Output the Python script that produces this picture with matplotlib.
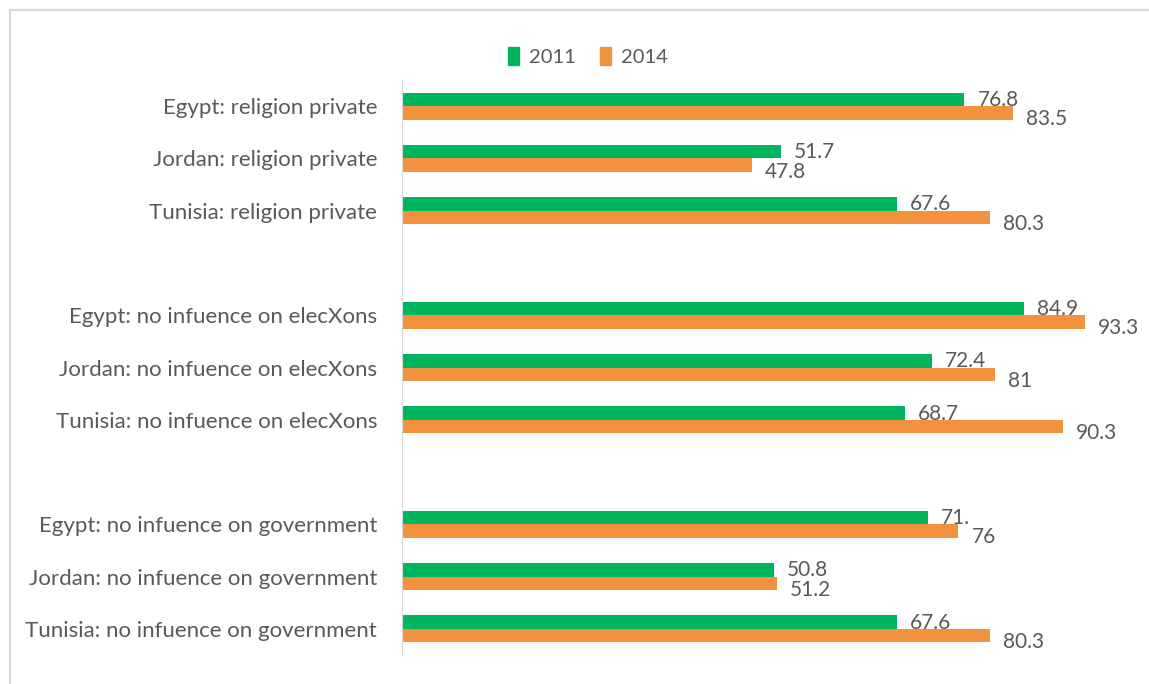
import numpy as np
import matplotlib.pyplot as plt
from matplotlib.patches import Patch, Rectangle

plt.rcParams['font.family'] = ['Lato', 'DejaVu Sans']

# categories top to bottom, '' = empty gap slot
categories = ['Egypt: religion private', 'Jordan: religion private', 'Tunisia: religion private', '',
              'Egypt: no infuence on elecXons', 'Jordan: no infuence on elecXons',
              'Tunisia: no infuence on elecXons', '',
              'Egypt: no infuence on government', 'Jordan: no infuence on government',
              'Tunisia: no infuence on government']
v2011 = [76.8, 51.7, 67.6, None, 84.9, 72.4, 68.7, None, 71.8, 50.8, 67.6]
v2014 = [83.5, 47.8, 80.3, None, 93.3, 81.0, 90.3, None, 76.0, 51.2, 80.3]
lab2011 = ['76.8', '51.7', '67.6', '', '84.9', '72.4', '68.7', '', '71.', '50.8', '67.6']
lab2014 = ['83.5', '47.8', '80.3', '', '93.3', '81', '90.3', '', '76', '51.2', '80.3']

green = '#00B55E'
orange = '#F2923F'
txt = '#595959'

fig = plt.figure(figsize=(11.49, 6.84), dpi=100)
ax = fig.add_axes([0.35, 0.0424, 0.637, 0.8406])

n = len(categories)
y = np.arange(n)
h = 0.26
for i in range(n):
    if v2011[i] is None:
        continue
    ax.barh(y[i] - h / 2, v2011[i], height=h, color=green)
    ax.barh(y[i] + h / 2, v2014[i], height=h, color=orange)
    ax.text(v2011[i] + 1.8, y[i] - 0.12, lab2011[i], va='center', ha='left',
            fontsize=15, color=txt)
    ax.text(v2014[i] + 1.8, y[i] + 0.25, lab2014[i], va='center', ha='left',
            fontsize=15, color=txt)

ax.set_xlim(0, 100)
ax.set_ylim(n - 0.5, -0.5)
ax.set_yticks(y)
ax.set_yticklabels(categories, fontsize=16, color=txt)
ax.tick_params(axis='y', length=0, pad=18)
ax.set_xticks([])
for s in ['top', 'right', 'bottom']:
    ax.spines[s].set_visible(False)
ax.spines['left'].set_color('#d9d9d9')

handles = [Patch(color=green, label='2011'), Patch(color=orange, label='2014')]
fig.legend(handles=handles, loc='center', bbox_to_anchor=(0.512, 0.917), ncol=2,
           frameon=False, handlelength=0.55, handleheight=1.0, handletextpad=0.5,
           columnspacing=1.2, prop={'size': 14.5}, labelcolor=txt)

fig.patches.append(Rectangle((10 / 1149, -0.01), 1.0, 1 - 10 / 684 + 0.01,
                             transform=fig.transFigure, fill=False,
                             edgecolor='#d9d9d9', linewidth=1.5))

fig.savefig('out.png', dpi=100)
